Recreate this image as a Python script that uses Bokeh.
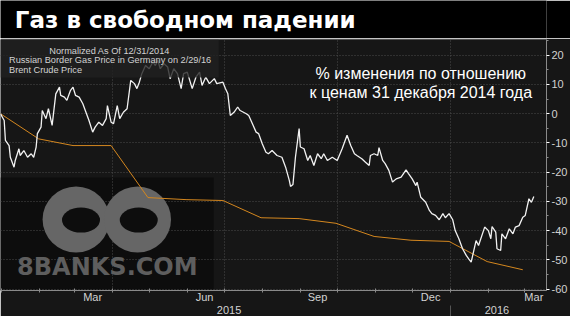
from bokeh.plotting import figure
from bokeh.models import (Range1d, LinearAxis, FixedTicker, Legend, LegendItem,
                          Label, Grid, BoxAnnotation)
from bokeh.layouts import column
from bokeh.embed import file_html
from bokeh.resources import INLINE

TITLE = "Газ в свободном падении"
NOTE_LINES = ["% изменения по отношению", "к ценам 31 декабря 2014 года"]
LEGEND_TITLE = "Normalized As Of 12/31/2014"
GAS_NAME = "Russian Border Gas Price in Germany on 2/29/16"
BRENT_NAME = "Brent Crude Price"
WATERMARK = "8BANKS.COM"

# x values: days since 2014-12-31; y values: % change vs 2014-12-31
gas_days = [0, 31, 59, 90, 120, 151, 181, 212, 243, 273, 304, 334, 365, 396, 425]
gas_pct = [0, -8.6, -10.9, -10.9, -28.7, -29.4, -29.7, -35.6, -35.9, -37.5,
           -42.0, -43.3, -43.7, -50.6, -53.4]

brent_days = [
    0, 3, 4, 7, 8, 11, 12, 15, 16, 19,
    22, 25, 27, 29, 30, 33, 34, 37, 39, 42,
    45, 48, 49, 52, 54, 57, 59, 61, 64, 67,
    69, 72, 75, 77, 80, 83, 86, 87, 90, 92,
    95, 97, 100, 103, 106, 109, 111, 113, 115, 118,
    121, 124, 126, 128, 130, 133, 136, 138, 141, 144,
    147, 149, 152, 156, 159, 162, 164, 167, 170, 174,
    176, 181, 183, 185, 187, 190, 193, 195, 200, 202,
    205, 208, 210, 213, 216, 218, 221, 225, 229, 232,
    235, 236, 238, 240, 243, 244, 247, 250, 252, 255,
    258, 261, 263, 266, 270, 274, 278, 282, 285, 288,
    290, 294, 297, 300, 301, 304, 307, 308, 311, 313,
    316, 319, 322, 326, 330, 332, 335, 338, 339, 342,
    346, 349, 351, 354, 357, 360, 362, 365, 368, 370,
    373, 376, 379, 381, 383, 387, 389, 394, 397, 399,
    400, 403, 404, 407, 408, 411, 414, 417, 419, 422,
    425, 427, 430, 432, 434]
brent_pct = [
    0, -2.3, -9.1, -10.9, -14.9, -18.3, -16.0, -12.0, -14.3, -12.6,
    -14.9, -13.7, -14.9, -11.4, -6.8, -4.6, 1.1, -1.7, 1.7, -4.0,
    6.8, 9.1, 6.3, 5.7, 4.6, 8.0, 9.1, 6.3, 5.7, 3.4,
    1.1, -2.3, -6.3, -4.6, -2.9, -4.0, -1.7, 2.8, -2.9, -3.4,
    2.8, -1.7, 0.5, 1.7, 11.4, 10.3, 8.6, 10.8, 13.7, 16.5,
    15.4, 17.7, 16.5, 18.3, 15.4, 17.1, 16.0, 12.0, 15.4, 13.7,
    8.6, 13.7, 14.2, 8.6, 12.5, 14.2, 9.7, 12.5, 10.3, 12.0,
    10.3, 10.8, 8.6, 6.8, -0.6, 0.5, 2.3, 1.1, 0.0, -0.6,
    -3.4, -6.3, -6.8, -10.3, -13.2, -13.7, -12.6, -14.3, -14.9, -18.3,
    -22.8, -24.9, -24.2, -14.9, -5.1, -11.4, -12.0, -16.0, -14.3, -17.7,
    -13.7, -15.4, -13.7, -16.0, -14.9, -16.0, -12.0, -7.4, -10.9, -13.7,
    -14.3, -15.4, -16.6, -17.7, -14.3, -13.7, -14.3, -11.6, -16.0, -17.1,
    -19.4, -23.4, -22.3, -21.7, -19.2, -20.5, -22.3, -24.6, -23.4, -28.6,
    -30.3, -33.1, -34.2, -34.8, -36.3, -34.2, -35.6, -34.2, -36.3, -40.0,
    -42.8, -46.2, -48.5, -49.7, -50.8, -43.4, -45.1, -38.8, -40.0, -42.8,
    -38.6, -40.5, -46.2, -46.8, -41.1, -42.8, -39.4, -41.1, -38.8, -38.3,
    -35.4, -34.8, -29.1, -30.3, -28.3]

y_ticks = [-60, -50, -40, -30, -20, -10, 0, 10, 20]
y_tick_labels = ["-60", "-50", "-40", "-30", "-20", "-10", "0", "10", "20"]
y_minor_ticks = [-55, -45, -35, -25, -15, -5, 5, 15, 25]
month_starts = [1, 32, 60, 91, 121, 152, 182, 213, 244, 274, 305, 335, 366, 397, 426]
quarter_starts = [91, 182, 274, 366]
month_label_days = [75, 166, 258, 350, 434]
month_labels = ["Mar", "Jun", "Sep", "Dec", "Mar"]
year_label_days = [186, 404]
year_labels = ["2015", "2016"]
year_breaks = [366]

BG = "#161616"
GAS_COLOR = "#d4871f"
TEXT = "#d2d2d2"

# ---- title band ----
t = figure(width=570, height=38, x_range=Range1d(0, 570), y_range=Range1d(0, 38),
           x_axis_type=None, y_axis_type=None, output_backend="svg",
           toolbar_location=None, min_border=0)
t.background_fill_color = "black"
t.border_fill_color = "black"
t.outline_line_color = None
t.add_layout(Label(x=15, y=19, text=TITLE, text_color="white",
                   text_font="DejaVu Sans", text_font_size="23px",
                   text_font_style="bold", text_baseline="middle"))

# ---- main chart ----
p = figure(width=570, height=278, x_range=Range1d(0, 444.3),
           y_range=Range1d(-60.5, 25.4), x_axis_type=None, y_axis_type=None,
           output_backend="svg", toolbar_location=None,
           min_border_left=0, min_border_top=1, min_border_right=0,
           min_border_bottom=0)
p.background_fill_color = BG
p.border_fill_color = BG
p.outline_line_color = None

# watermark (decoration)
p.add_layout(BoxAnnotation(left=0, right=173.5, bottom=-60.5, top=-21.8,
                           fill_color="#0d0d0d", fill_alpha=1.0,
                           line_color=None, level="underlay"))
p.ellipse(x=[61.5, 111.5], y=[-36.2, -36.2], width=67, height=66,
          width_units="screen", height_units="screen",
          fill_color="#666666", line_color=None)
p.ellipse(x=[65.5, 112.5], y=[-36.4, -36.4], width=38, height=25,
          width_units="screen", height_units="screen",
          fill_color="#0d0d0d", line_color=None)

p.add_layout(Grid(dimension=0, ticker=FixedTicker(ticks=quarter_starts),
                  grid_line_color="#4a4a4a", grid_line_dash="1 2"))
p.add_layout(Grid(dimension=1, ticker=FixedTicker(ticks=y_ticks),
                  grid_line_color="#4a4a4a", grid_line_dash="1 2"))

p.line(gas_days, gas_pct, line_color=GAS_COLOR, line_width=1)
p.line(brent_days, brent_pct, line_color="#f2f2f2", line_width=1.3)

p.add_layout(Label(x=13.5, y=-57.2, text=WATERMARK, text_color="#5e5e5e",
                   text_font="DejaVu Sans", text_font_size="24px",
                   text_font_style="bold"))

# legend: background panel + centred heading + legend items
p.add_layout(BoxAnnotation(left=0, right=177.5, top=25.4, bottom=12.4,
                           fill_color="#202020", fill_alpha=0.8, line_color=None))
p.add_layout(Label(x=88.8, y=21.6, text=LEGEND_TITLE, text_color=TEXT,
                   text_font="Liberation Sans", text_font_size="9.2px",
                   text_align="center", text_baseline="middle"))

sq_gas = p.scatter([], [], marker="square", size=7, fill_color="#f5a623",
                   line_color=None)
sq_brent = p.scatter([], [], marker="square", size=7, fill_color="white",
                     line_color=None)
legend = Legend(items=[LegendItem(label=GAS_NAME, renderers=[sq_gas]),
                       LegendItem(label=BRENT_NAME, renderers=[sq_brent])],
                location=(0, 215),
                label_text_font="Liberation Sans", label_text_font_size="9.2px",
                label_text_color=TEXT, label_height=10, label_standoff=2,
                glyph_width=7, glyph_height=7, spacing=0, padding=5, margin=0,
                background_fill_alpha=0.0, border_line_color=None)
p.add_layout(legend)

p.add_layout(Label(x=342, y=10.7, text=NOTE_LINES[0], text_color="white",
                   text_font="Liberation Sans", text_font_size="16px",
                   text_align="center"))
p.add_layout(Label(x=342, y=4.4, text=NOTE_LINES[1], text_color="white",
                   text_font="Liberation Sans", text_font_size="16px",
                   text_align="center"))

yaxis = LinearAxis(ticker=FixedTicker(ticks=y_ticks, minor_ticks=y_minor_ticks),
                   major_label_overrides=dict(zip(y_ticks, y_tick_labels)),
                   axis_line_color="#8a8a8a", major_tick_in=0, major_tick_out=3,
                   major_tick_line_color="white", minor_tick_in=0,
                   minor_tick_out=2, minor_tick_line_color="#8a8a8a",
                   major_label_text_color=TEXT, major_label_text_font="Liberation Sans",
                   major_label_text_font_size="11px", major_label_standoff=2)
p.add_layout(yaxis, "right")

xaxis = LinearAxis(ticker=FixedTicker(ticks=month_label_days, minor_ticks=month_starts),
                   major_label_overrides=dict(zip(month_label_days, month_labels)),
                   axis_line_color="#8a8a8a", major_tick_in=0, major_tick_out=0,
                   minor_tick_in=2, minor_tick_out=2, minor_tick_line_color="#8a8a8a",
                   major_label_text_color=TEXT, major_label_text_font="Liberation Sans",
                   major_label_text_font_size="11px", major_label_standoff=-2)
p.add_layout(xaxis, "below")

yraxis = LinearAxis(ticker=FixedTicker(ticks=year_label_days, minor_ticks=year_breaks),
                    major_label_overrides=dict(zip(year_label_days, year_labels)),
                    axis_line_color=None, major_tick_in=0, major_tick_out=0,
                    minor_tick_in=0, minor_tick_out=12, minor_tick_line_color="#555555",
                    major_label_text_color=TEXT, major_label_text_font="Liberation Sans",
                    major_label_text_font_size="11px", major_label_standoff=-12)
p.add_layout(yraxis, "below")

layout = column(t, p, spacing=0)
open("out.html", "w").write(file_html(layout, INLINE))
